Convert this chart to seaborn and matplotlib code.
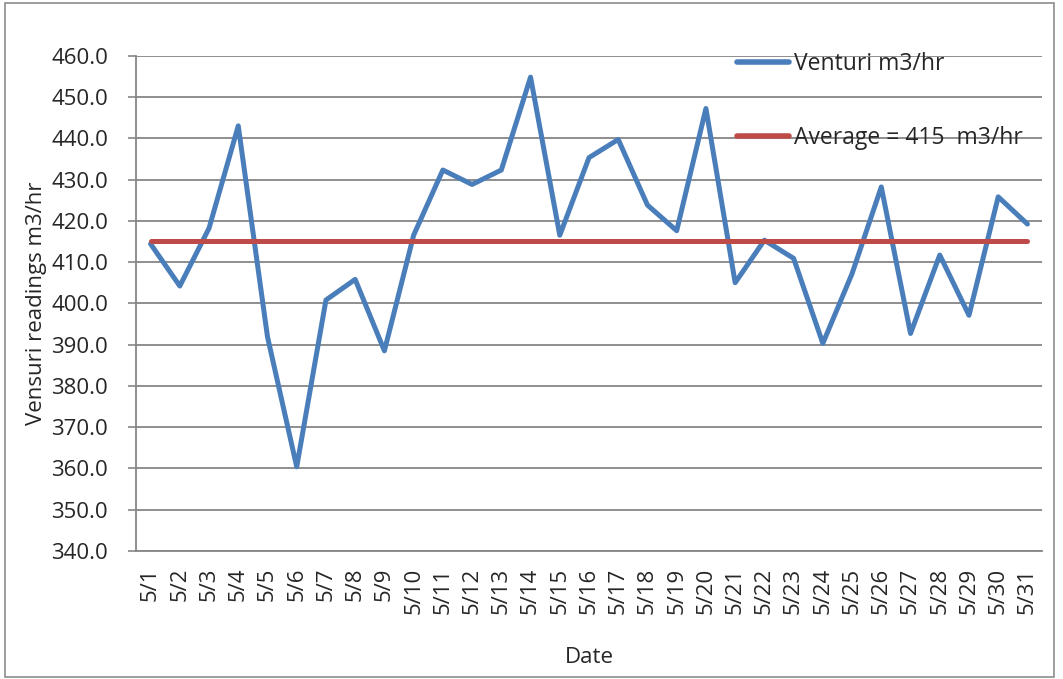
import pandas as pd
import matplotlib
matplotlib.use("Agg")
import matplotlib.pyplot as plt
import seaborn as sns
from matplotlib.patches import Rectangle

# data
dates = ["5/%d" % d for d in range(1, 32)]
venturi = [414.4, 404.2, 418.2, 443.0, 391.9, 360.4, 400.8, 405.8, 388.5, 416.5,
           432.3, 428.8, 432.3, 454.8, 416.5, 435.3, 439.7, 423.8, 417.6, 447.2,
           405.0, 415.3, 410.9, 390.3, 407.2, 428.2, 392.7, 411.7, 397.1, 425.8, 419.2]
average = [415] * 31
y_ticks = [340, 350, 360, 370, 380, 390, 400, 410, 420, 430, 440, 450, 460]

df = pd.DataFrame({"Date": dates, "Venturi m3/hr": venturi, "Average = 415  m3/hr": average})
long_df = df.melt(id_vars="Date", var_name="series", value_name="value")

sns.set_style("white")
plt.rcParams['font.family'] = ['Open Sans', 'DejaVu Sans']

fig = plt.figure(figsize=(10.63, 6.79), dpi=100)
ax = fig.add_axes([0.1279, 0.1885, 0.8524, 0.7295])

# outer chart border
fig.patches.append(Rectangle((5 / 1063, 2 / 679), 1049 / 1063, 674 / 679, transform=fig.transFigure,
                             fill=False, edgecolor="#8c8c8c", linewidth=1.2))

sns.lineplot(data=long_df, x="Date", y="value", hue="series",
             palette=["#4A7EBB", "#BE4B48"], linewidth=3.6, ax=ax, sort=False)

ax.set_ylim(340, 460)
ax.set_xlim(-0.5, 30.5)
ax.set_yticks(y_ticks)
ax.set_yticklabels(["%.1f" % v for v in y_ticks], fontsize=16)
ax.tick_params(axis="y", direction="out", length=6, color="#868686", width=1.2, pad=14, left=True)
ax.tick_params(axis="x", rotation=90, labelsize=16, length=0, pad=12)
ax.grid(axis="y", color="#868686", linewidth=1.3)
ax.set_axisbelow(True)
for side in ["top", "right"]:
    ax.spines[side].set_visible(False)
for side in ["left", "bottom"]:
    ax.spines[side].set_color("#868686")
    ax.spines[side].set_linewidth(1.3)

ax.set_xlabel("Date", fontsize=16, labelpad=24)
ax.set_ylabel("Vensuri readings m3/hr", fontsize=16, labelpad=3)

leg = ax.legend(loc="upper left", bbox_to_anchor=(0.663, 1.008), frameon=False,
                fontsize=16.5, handlelength=2.3, handletextpad=0.22,
                labelspacing=2.2, borderpad=0, borderaxespad=0)
for line in leg.get_lines():
    line.set_linewidth(4)

fig.savefig("out.png", dpi=100)
